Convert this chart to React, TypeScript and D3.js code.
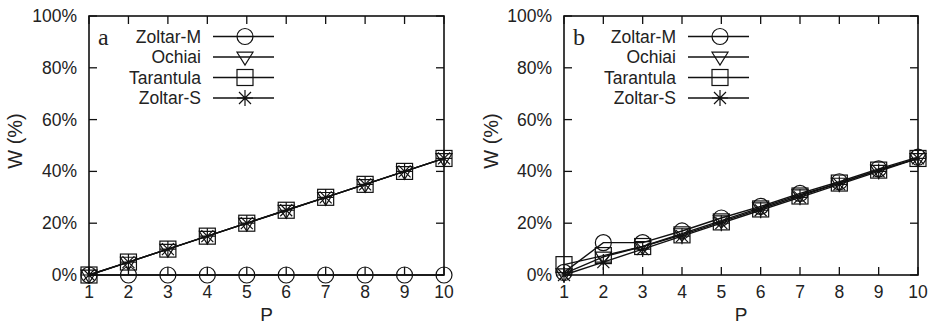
import React from 'react';
import * as d3 from 'd3';

const width = 933;
const height = 324;
const font = '"Liberation Sans", Arial, Helvetica, sans-serif';

const P = [1, 2, 3, 4, 5, 6, 7, 8, 9, 10];
const yTicks = [0, 20, 40, 60, 80, 100];
const seriesNames = ['Zoltar-M', 'Ochiai', 'Tarantula', 'Zoltar-S'];
const markers = ['circle', 'triangle', 'square', 'star'];

// panel a
const aZoltarM = [0, 0, 0, 0, 0, 0, 0, 0, 0, 0];
const aOchiai = [0, 5, 10, 15, 20, 25, 30, 35, 40, 45];
const aTarantula = [0, 5, 10, 15, 20, 25, 30, 35, 40, 45];
const aZoltarS = [0, 5, 10, 15, 20, 25, 30, 35, 40, 45];

// panel b
const bZoltarM = [1, 12.5, 12.5, 17, 22, 26.5, 31.5, 36, 41, 45.5];
const bOchiai = [0.5, 7, 11, 16, 21, 26, 31, 35.5, 40.5, 45];
const bTarantula = [4, 7.5, 11, 15.5, 20.5, 25.5, 30.5, 35.5, 40.5, 45];
const bZoltarS = [0, 5, 10, 15, 20, 25, 30, 35, 40, 45];

const top = 16;
const bottom = 275;
const tickLen = 8;

function Marker({type, x, y}: {type: string, x: number, y: number}) {
  const s = 8;
  const st = {fill: 'none', stroke: '#111', strokeWidth: 1.2};
  if (type === 'circle') return <circle cx={x} cy={y} r={s} {...st}/>;
  if (type === 'square') return <rect x={x - s} y={y - s} width={2 * s} height={2 * s} {...st}/>;
  if (type === 'triangle') {
    return <path d={`M${x - s},${y - s * 0.6}L${x + s},${y - s * 0.6}L${x},${y + s}Z`} {...st}/>;
  }
  // star: + and x
  const d = s * 0.75;
  return <path d={`M${x},${y - s}V${y + s}M${x - s},${y}H${x + s}M${x - d},${y - d}L${x + d},${y + d}M${x - d},${y + d}L${x + d},${y - d}`} {...st}/>;
}

function Panel({left, right, label, data, yLabelX}: {left: number, right: number, label: string, data: number[][], yLabelX: number}) {
  const x = d3.scaleLinear().domain([1, 10]).range([left, right]);
  const y = d3.scaleLinear().domain([0, 100]).range([bottom, top]);
  const line = d3.line<number>().x((d, i) => x(P[i])).y(d => y(d));

  return (
    <g fontFamily={font}>
      {/* ticks */}
      {P.map(p => (
        <g key={'xt' + p}>
          <line x1={x(p)} x2={x(p)} y1={bottom} y2={bottom - tickLen} stroke="#111" strokeWidth={1.3}/>
          <line x1={x(p)} x2={x(p)} y1={top} y2={top + tickLen} stroke="#111" strokeWidth={1.3}/>
          <text x={x(p)} y={298} fontSize={17.5} textAnchor="middle" fill="#222">{p}</text>
        </g>
      ))}
      {yTicks.map(t => (
        <g key={'yt' + t}>
          <line x1={left} x2={left + tickLen} y1={y(t)} y2={y(t)} stroke="#111" strokeWidth={1.3}/>
          <line x1={right} x2={right - tickLen} y1={y(t)} y2={y(t)} stroke="#111" strokeWidth={1.3}/>
          <text x={left - 12} y={y(t) + 6} fontSize={17.5} textAnchor="end" fill="#222">{t}%</text>
        </g>
      ))}
      <rect x={left} y={top} width={right - left} height={bottom - top} fill="none" stroke="#111" strokeWidth={1.6}/>

      {/* series */}
      {data.map((vals, si) => (
        <g key={'s' + si}>
          <path d={line(vals) || ''} fill="none" stroke="#111" strokeWidth={1.4}/>
          {vals.map((v, i) => <Marker key={i} type={markers[si]} x={x(P[i])} y={y(v)}/>)}
        </g>
      ))}

      {/* legend */}
      {seriesNames.map((name, i) => {
        const ly = 36.5 + i * 20.5;
        return (
          <g key={'lg' + i}>
            <text x={left + 112} y={ly + 6} fontSize={17.5} textAnchor="end" fill="#222">{name}</text>
            <line x1={left + 124} x2={left + 185} y1={ly} y2={ly} stroke="#111" strokeWidth={1.3}/>
            <Marker type={markers[i]} x={left + 156} y={ly}/>
          </g>
        );
      })}

      <text x={left + 9} y={45} fontSize={24} fontFamily='"Liberation Serif", "Times New Roman", serif' fill="#222">{label}</text>
      <text x={(left + right) / 2} y={321} fontSize={19} textAnchor="middle" fill="#222">P</text>
      <text transform={`translate(${yLabelX},141) rotate(-90)`} fontSize={20} textAnchor="middle" fill="#222">W (%)</text>
    </g>
  );
}

export default function App() {
  return (
    <svg width={width} height={height} style={{position: 'absolute', left: 0, top: 0, background: '#fff'}}>
      <Panel left={89} right={444} label="a" yLabelX={22}
        data={[aZoltarM, aOchiai, aTarantula, aZoltarS]}/>
      <Panel left={564} right={918} label="b" yLabelX={498}
        data={[bZoltarM, bOchiai, bTarantula, bZoltarS]}/>
    </svg>
  );
}
